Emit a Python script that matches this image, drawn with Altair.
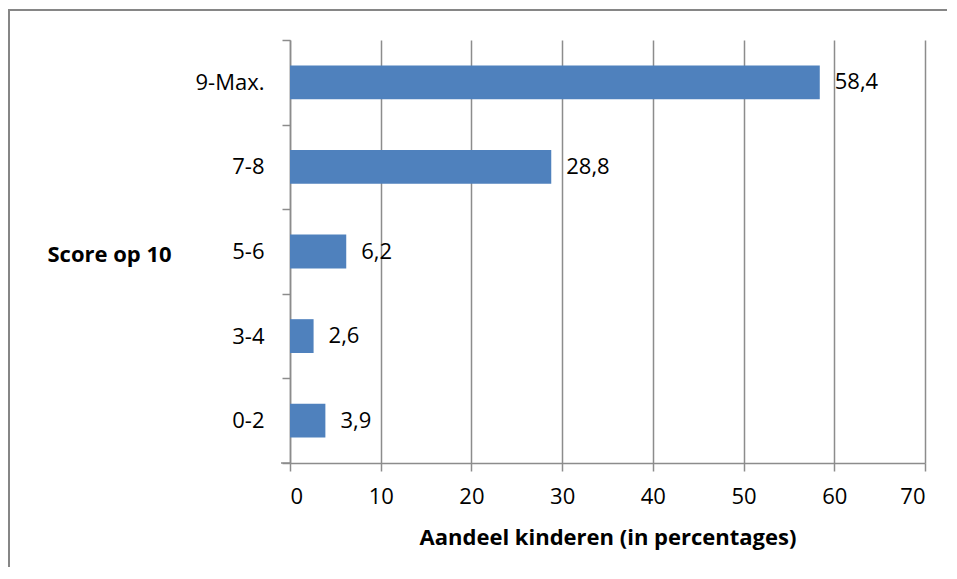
import altair as alt
import pandas as pd

categories = ["9-Max.", "7-8", "5-6", "3-4", "0-2"]
values = [58.4, 28.8, 6.2, 2.6, 3.9]
x_ticks = [0, 10, 20, 30, 40, 50, 60, 70]

df = pd.DataFrame({"score": categories, "pct": values})

FONT = "Open Sans"
W, H = 635, 423
PAD = {"left": 282, "top": 32, "right": 22, "bottom": 104}

y_enc = alt.Y(
    "score:N",
    sort=categories,
    scale=alt.Scale(paddingInner=0, paddingOuter=0),
    axis=alt.Axis(
        title="Score op 10",
        titleAngle=0,
        titleAlign="left",
        titleBaseline="middle",
        titleX=-243,
        titleY=214,
        titleFont=FONT,
        titleFontSize=22,
        titleFontWeight="bold",
        titleColor="black",
        labelFont=FONT,
        labelFontSize=22,
        labelColor="black",
        labelPadding=18,
        tickBand="extent",
        tickSize=8,
        tickColor="#8c8c8c",
        tickWidth=1.5,
        domainColor="#8c8c8c",
        domainWidth=1.5,
        grid=False,
    ),
)

x_enc = alt.X(
    "pct:Q",
    scale=alt.Scale(domain=[0, 70], nice=False),
    axis=alt.Axis(
        title="Aandeel kinderen (in percentages)",
        values=x_ticks,
        titleFont=FONT,
        titleFontSize=22,
        titleFontWeight="bold",
        titleColor="black",
        titlePadding=20,
        labelFont=FONT,
        labelFontSize=22,
        labelColor="black",
        labelPadding=15,
        tickSize=8,
        tickColor="#8c8c8c",
        tickWidth=1.5,
        domainColor="#8c8c8c",
        domainWidth=1.5,
        grid=True,
        gridColor="#8c8c8c",
        gridWidth=1.5,
    ),
)

base = alt.Chart(df)

bars = base.mark_bar(color="#4F81BD", height={"band": 0.4}).encode(x=x_enc, y=y_enc)

labels = base.transform_calculate(
    lbl="replace(format(datum.pct, '.1f'), '.', ',')"
).mark_text(
    align="left", baseline="middle", dx=15, font=FONT, fontSize=22, color="black"
).encode(x="pct:Q", y=alt.Y("score:N", sort=categories), text="lbl:N")

one = pd.DataFrame({"a": [0]})
top_line = alt.Chart(one).mark_rule(color="#868686", strokeWidth=2).encode(
    x=alt.value(-282), x2=alt.value(W + PAD["right"] + 2), y=alt.value(-30)
)
left_line = alt.Chart(one).mark_rule(color="#868686", strokeWidth=2).encode(
    x=alt.value(-281), y=alt.value(-31), y2=alt.value(H + PAD["bottom"] + 2)
)

stub = alt.Chart(one).mark_rule(color="#8c8c8c", strokeWidth=1.5).encode(
    x=alt.value(-9), x2=alt.value(0), y=alt.value(H)
)

chart = alt.layer(top_line, left_line, bars, labels, stub).properties(
    width=W,
    height=H,
    autosize=alt.AutoSizeParams(type="none"),
    padding=PAD,
).configure_view(stroke=None)

chart.save("out.html", embed_options={"renderer": "svg", "actions": False})
